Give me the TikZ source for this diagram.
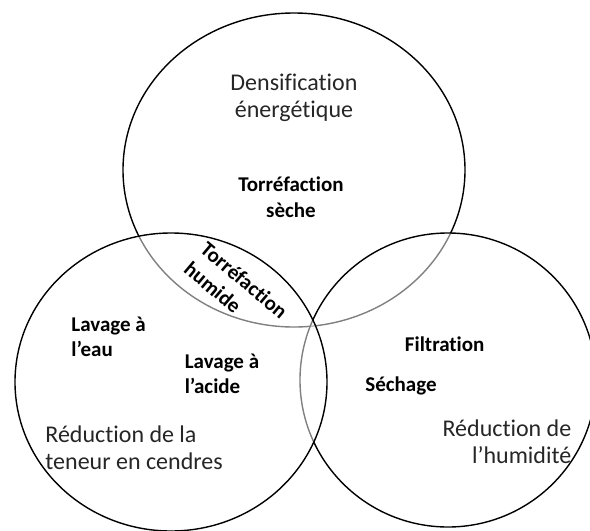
\documentclass[tikz,border=0pt]{standalone}
\usepackage{fontspec}
\setmainfont{Carlito}[Ligatures=NoCommon]
\usepackage{tikz}
\usetikzlibrary{shapes.geometric}
\tikzstyle{ring} = [ellipse, draw=black, line width=0.7pt, inner sep=0pt]
\tikzstyle{veil} = [fill=white, fill opacity=0.5]
\tikzstyle{goal} = [inner sep=0pt, text=black!85, font=\fontsize{12}{13.4}\selectfont]
\tikzstyle{method} = [inner sep=0pt, font=\fontsize{10.5}{12.8}\selectfont\bfseries]

\begin{document}
\begin{tikzpicture}[x=0.5pt, y=-0.5pt]
        \useasboundingbox (0,0) rectangle (590,531);
        % the three circles, lower ones seen through the upper ones
        \node (dens) [ring, minimum width=171pt, minimum height=157pt] at (294,170) {};
        \node (humi) [ring, veil, minimum width=148pt, minimum height=147pt] at (448,380) {};
        \node (ash) [ring, veil, minimum width=156pt, minimum height=149pt] at (171,382) {};

        \node (densgoal) [goal, align=center] at (294,98) {Densification\\énergétique};
        \node (ashgoal) [goal, align=left, anchor=west] at (45,448) {Réduction de la\\teneur en cendres};
        \node (humigoal) [goal, align=right, anchor=east] at (571.7,442) {Réduction de\\l’humidité};

        \node (dry) [method, align=center] at (291,197) {Torréfaction\\sèche};
        \node (wet) [method, align=left, rotate=-40] at (236,290) {Torréfaction\\humide};
        \node (water) [method, align=left, anchor=west] at (71,337) {Lavage à\\l’eau};
        \node (acid) [method, align=left, anchor=west] at (184.4,374) {Lavage à\\l’acide};
        \node (filt) [method, anchor=base] at (444.7,351.7) {Filtration};
        \node (sech) [method, anchor=base] at (401,391.7) {Séchage};
    \end{tikzpicture}
\end{document}
